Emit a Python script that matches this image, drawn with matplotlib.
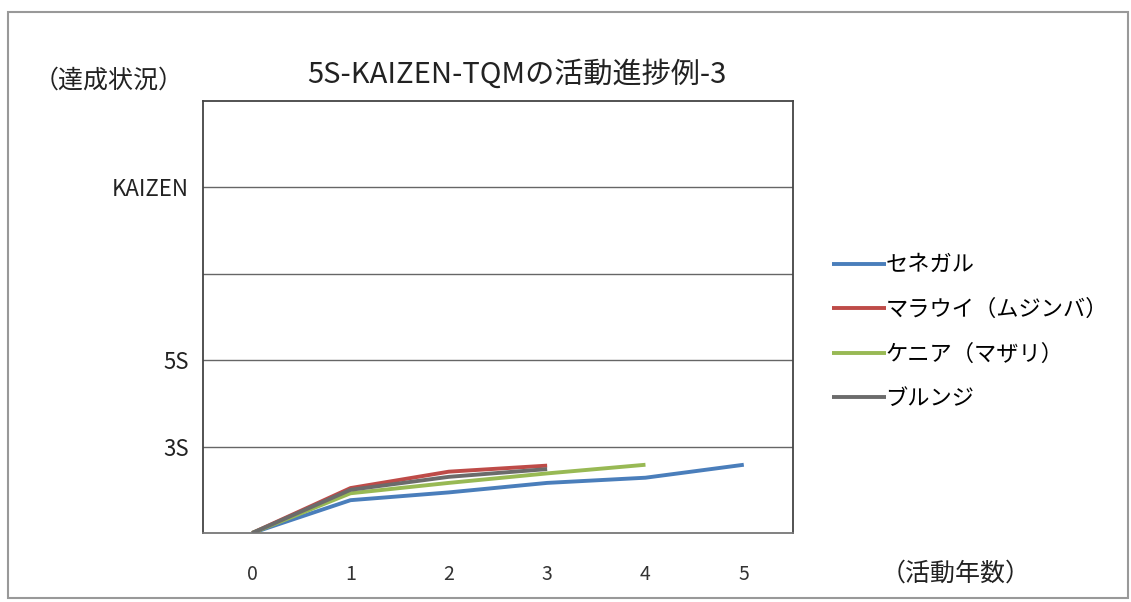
import matplotlib.pyplot as plt
from matplotlib.patches import Rectangle

plt.rcParams['font.family'] = ['Noto Sans CJK JP', 'DejaVu Sans']

years = [0, 1, 2, 3, 4, 5]
series_names = ['セネガル', 'マラウイ（ムジンバ）', 'ケニア（マザリ）', 'ブルンジ']
senegal = [0, 0.38, 0.47, 0.58, 0.64, 0.79]
malawi = [0, 0.52, 0.71, 0.78]
kenya = [0, 0.46, 0.58, 0.69, 0.79]
burundi = [0, 0.50, 0.65, 0.74]
level_ticks = [1, 2, 3, 4]
level_labels = ['3S', '5S', '', 'KAIZEN']

colors = ['#4a7ebb', '#be4b48', '#98b954', '#6b6b6b']
all_series = [senegal, malawi, kenya, burundi]

fig = plt.figure(figsize=(11.31, 6.02), dpi=100)
ax = fig.add_axes([0.1795, 0.1146, 0.5216, 0.7176])

for name, vals, c in zip(series_names, all_series, colors):
    ax.plot(years[:len(vals)], vals, color=c, lw=2.8, label=name,
            solid_capstyle='butt')

ax.set_xlim(-0.5, 5.5)
ax.set_ylim(0, 5)
ax.set_xticks(years)
ax.set_xticklabels([str(y) for y in years], fontsize=14, color='#333333')
ax.set_yticks(level_ticks)
ax.set_yticklabels(level_labels, fontsize=16, color='#222222')
ax.tick_params(axis='y', length=0, pad=10)
ax.tick_params(axis='x', length=0, pad=22)
ax.grid(axis='y', color='#666666', lw=1.0)
ax.set_axisbelow(True)
for s in ax.spines.values():
    s.set_color('#444444')
    s.set_linewidth(1.3)
ax.spines['bottom'].set_color('#777777')

fig.text(0.457, 0.875, '5S-KAIZEN-TQMの活動進捗例-3', fontsize=21,
         ha='center', va='center', color='#222222')
fig.text(0.03, 0.866, '（達成状況）', fontsize=18, ha='left', va='center',
         color='#222222')
fig.text(0.845, 0.048, '（活動年数）', fontsize=18, ha='center', va='center',
         color='#222222')

handles, labels = ax.get_legend_handles_labels()
fig.legend(handles, labels, loc='upper left', bbox_to_anchor=(0.728, 0.594),
           frameon=False, fontsize=16, handlelength=2.4, handletextpad=0.0,
           labelspacing=0.97, borderaxespad=0)

fig.patches.append(Rectangle((8 / 1131, 1 - 598 / 602), 1120 / 1131, 586 / 602,
                             transform=fig.transFigure, fill=False,
                             edgecolor='#999999', lw=1.5))

fig.savefig('out.png', dpi=100)
